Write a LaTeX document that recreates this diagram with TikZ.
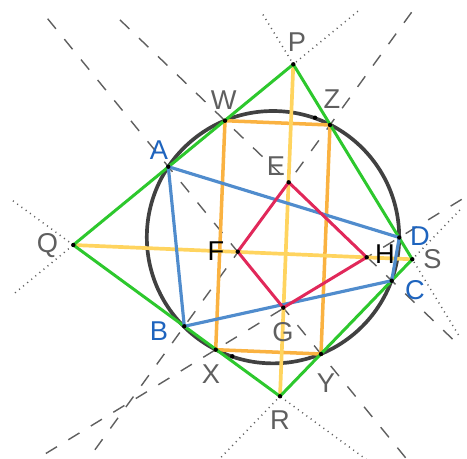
\documentclass[tikz,border=0pt]{standalone}
\usepackage{fontspec}
\setmainfont{Liberation Sans}
\usetikzlibrary{calc}

\definecolor{ggGreen}{RGB}{45,200,45}
\definecolor{ggOrange}{RGB}{250,178,65}
\definecolor{ggYellow}{RGB}{255,212,95}
\definecolor{ggBlue}{RGB}{80,140,205}
\definecolor{ggRed}{RGB}{225,40,90}
\definecolor{ggCircle}{RGB}{65,65,65}
\definecolor{ggLabel}{RGB}{95,95,95}
\definecolor{ggBlueLbl}{RGB}{30,100,190}

\begin{document}
\begin{tikzpicture}[
    x=0.02cm, y=-0.02cm,
    font=\fontsize{15.5}{18}\selectfont,
    side/.style={line width=1.7pt, ggGreen, line join=round},
    ext/.style={line width=0.85pt, dash pattern=on 0.6pt off 2.4pt, ggLabel},
    chord/.style={line width=0.8pt, dash pattern=on 7.4pt off 7.6pt, ggLabel},
    rect/.style={line width=2pt, ggOrange},
    axis/.style={line width=2.1pt, ggYellow},
    quad/.style={line width=1.8pt, ggBlue, line join=round},
    kite/.style={line width=1.7pt, ggRed, line join=round},
    lbl/.style={inner sep=0pt, text=ggLabel},
    blbl/.style={lbl, text=ggBlueLbl},
    klbl/.style={lbl, text=black},
]
    \useasboundingbox (0,0) rectangle (467,459);
    \clip (0,0) rectangle (467,459);

    % --- Points (pixel grid, y downwards) ---
    \coordinate (P) at (293.3, 64.3);
    \coordinate (Q) at ( 73.3,245.0);
    \coordinate (R) at (280.0,396.3);
    \coordinate (S) at (412.3,259.3);

    \coordinate (A) at (168.3,166.7);
    \coordinate (B) at (184.3,326.3);
    \coordinate (C) at (391.7,280.7);
    \coordinate (D) at (399.3,237.5);

    \coordinate (W) at (225.0,120.7);
    \coordinate (Z) at (330.0,125.0);
    \coordinate (X) at (215.7,349.7);
    \coordinate (Y) at (321.0,354.0);

    \coordinate (E) at (288.7,182.3);
    \coordinate (F) at (237.7,251.7);
    \coordinate (G) at (283.3,307.7);
    \coordinate (H) at (366.7,257.3);

    \coordinate (O)  at (273.0,237.2);
    \coordinate (T1) at (315.0,117.7);
    \coordinate (T2) at (232.3,356.3);

    % --- Dotted extensions of the green sides ---
    \draw[ext] ($(Q)!-0.265!(P)$) -- ($(Q)!1.294!(P)$);
    \draw[ext] ($(R)!1.292!(Q)$)  -- ($(R)!-0.6!(Q)$);
    \draw[ext] ($(R)!1.36!(S)$)   -- ($(R)!-0.6!(S)$);
    \draw[ext] ($(P)!-0.255!(S)$) -- ($(P)!1.40!(S)$);

    % --- Dashed chords through the red vertices ---
    \draw[chord] ($(W)!-0.63!(C)$) -- ($(W)!1.39!(C)$);
    \draw[chord] ($(Z)!-0.56!(B)$) -- ($(Z)!1.8!(B)$);
    \draw[chord] ($(A)!-0.79!(Y)$) -- ($(A)!1.9!(Y)$);
    \draw[chord] ($(X)!1.34!(D)$)  -- ($(X)!-1.0!(D)$);

    % --- Circle ---
    \draw[ggCircle, line width=2.1pt] (O) circle (2.524cm);

    % --- Orange rectangle and yellow axes ---
    \draw[rect] (W) -- (Z) -- (Y) -- (X) -- cycle;
    \draw[axis] (P) -- (R);
    \draw[axis] (Q) -- (S);

    % --- Green quadrilateral ---
    \draw[side] (P) -- (Q) -- (R) -- (S) -- cycle;

    % --- Blue and red quadrilaterals ---
    \draw[quad] (A) -- (B) -- (C) -- (D) -- cycle;
    \draw[kite] (E) -- (F) -- (G) -- (H) -- cycle;

    % --- Point marks ---
    \foreach \p in {P,Q,R,S,A,B,C,D,W,Z,X,Y,E,F,G,H,T1,T2}
        \fill[black] (\p) circle (1.25pt);

    % --- Labels ---
    \node[lbl]  (lP) at (297, 42) {P};
    \node[lbl]  (lQ) at (47.5,246) {Q};
    \node[lbl]  (lR) at (280,420) {R};
    \node[lbl]  (lS) at (432.5,259) {S};
    \node[blbl] (lA) at (159,150) {A};
    \node[blbl] (lB) at (159,331) {B};
    \node[blbl] (lC) at (415,290) {C};
    \node[blbl] (lD) at (420,236) {D};
    \node[lbl]  (lW) at (223.7,100) {W};
    \node[lbl]  (lZ) at (332, 99) {Z};
    \node[lbl]  (lX) at (211,374) {X};
    \node[lbl]  (lY) at (326,383) {Y};
    \node[lbl]  (lE) at (276,166) {E};
    \node[klbl] (lF) at (216,251) {F};
    \node[lbl]  (lG) at (283,332) {G};
    \node[klbl] (lH) at (385,254) {H};
\end{tikzpicture}
\end{document}
